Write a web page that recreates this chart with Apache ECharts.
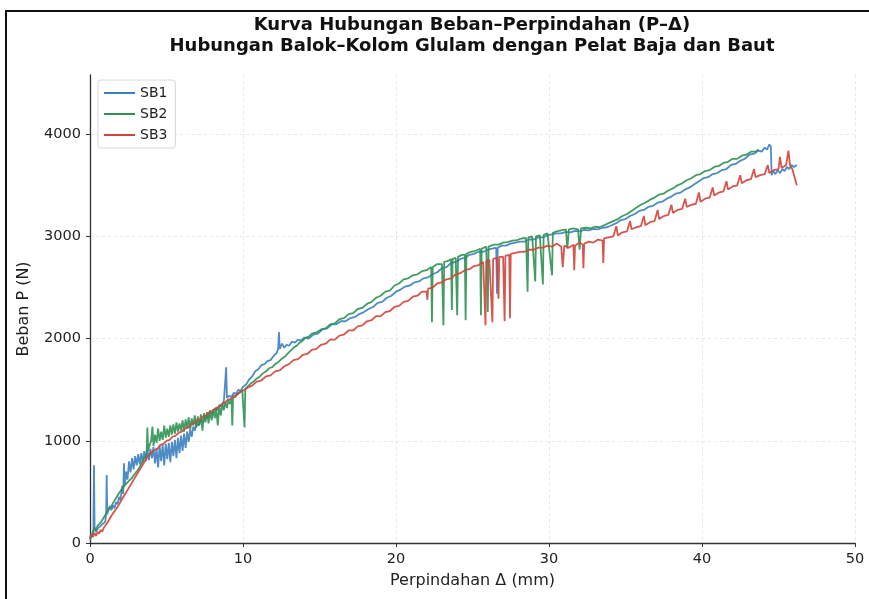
<!DOCTYPE html>
<html>
<head>
<meta charset="utf-8">
<script src="https://cdn.jsdelivr.net/npm/echarts@6/dist/echarts.min.js"></script>
<style>
html,body{margin:0;padding:0;background:#fff;}
#chart{width:869px;height:599px;}
</style>
</head>
<body>
<div id="chart"></div>
<script>
const titleLines = ['Kurva Hubungan Beban–Perpindahan (P–Δ)', 'Hubungan Balok–Kolom Glulam dengan Pelat Baja dan Baut'];
const seriesNames = ['SB1', 'SB2', 'SB3'];
const xTicks = [0, 10, 20, 30, 40, 50];
const yTicks = [0, 1000, 2000, 3000, 4000];

const sb1 = [
[0,40],[0.08,90],[0.15,60],[0.22,130],[0.26,760],[0.3,150],[0.38,110],[0.5,140],[0.62,125],[0.75,175],[0.88,160],[1.0,210],[1.06,300],[1.09,665],[1.13,280],[1.2,330],[1.3,360],[1.4,320],[1.5,370],[1.6,340],[1.7,400],[1.8,380],[1.9,450],[2.0,420],[2.1,560],[2.17,480],[2.22,780],[2.27,560],[2.35,700],[2.45,620],[2.55,800],[2.65,690],[2.75,830],[2.85,720],[2.95,850],[3.05,760],[3.15,870],[3.25,770],[3.35,880],[3.45,790],[3.55,900],[3.65,800],[3.75,910],[3.85,810],[3.95,920],[4.05,830],[4.15,940],[4.25,780],[4.35,930],[4.45,740],[4.55,950],[4.65,800],[4.75,960],[4.85,760],[4.95,970],[5.05,820],[5.15,980],[5.25,790],[5.35,990],[5.45,850],[5.55,1010],[5.65,830],[5.75,1030],[5.85,880],[5.95,1050],[6.05,900],[6.15,1070],[6.25,930],[6.35,1090],[6.45,990],[6.55,1110],[6.65,1040],[6.75,1140],[6.85,1100],[6.95,1170],[7.1,1150],[7.25,1200],[7.4,1190],[7.55,1240],[7.7,1230],[7.85,1280],[8.0,1270],[8.15,1310],[8.3,1300],[8.45,1350],[8.6,1340],[8.75,1390],[8.85,1400],[8.9,1720],[8.95,1420],[9.1,1440],[9.25,1430],[9.4,1470],[9.55,1460],[9.7,1500],[9.85,1490],[10.0,1530],[10.2,1550],[10.4,1600],[10.6,1630],[10.8,1680],[11.0,1700],[11.2,1740],[11.4,1750],[11.6,1780],[11.8,1790],[12.0,1830],[12.2,1860],[12.3,1900],[12.35,2065],[12.4,1900],[12.55,1950],[12.7,1910],[12.85,1940],[13.0,1930],[13.2,1970],[13.4,1960],[13.6,1990],[13.8,1980],[14.0,2010],[14.3,2000],[14.6,2040],[14.9,2050],[15.2,2090],[15.5,2100],[15.8,2140],[16.1,2140],[16.4,2170],[16.7,2170],[17.0,2200],[17.3,2210],[17.6,2240],[17.9,2260],[18.2,2290],[18.5,2310],[18.8,2350],[19.1,2360],[19.4,2400],[19.7,2420],[20.0,2460],[20.3,2480],[20.6,2510],[20.9,2520],[21.2,2550],[21.5,2560],[21.8,2590],[22.1,2600],[22.4,2630],[22.7,2650],[23.0,2690],[23.3,2700],[23.6,2740],[23.9,2750],[24.2,2780],[24.5,2790],[24.8,2820],[25.1,2830],[25.4,2850],[25.7,2850],[26.0,2870],[26.3,2880],[26.55,2890],[26.6,2440],[26.65,2890],[26.9,2910],[27.2,2910],[27.5,2930],[27.8,2940],[28.1,2950],[28.4,2950],[28.7,2970],[29.0,2970],[29.3,2990],[29.6,2990],[29.9,3010],[30.2,3020],[30.5,3030],[30.8,3030],[31.1,3045],[31.4,3040],[31.7,3055],[32.0,3050],[32.3,3065],[32.6,3060],[32.9,3075],[33.2,3070],[33.5,3085],[33.8,3090],[34.1,3110],[34.4,3130],[34.7,3160],[35.0,3170],[35.3,3200],[35.6,3220],[35.9,3250],[36.2,3260],[36.5,3290],[36.8,3300],[37.1,3330],[37.4,3340],[37.7,3370],[38.0,3390],[38.3,3420],[38.6,3430],[38.9,3460],[39.2,3480],[39.5,3510],[39.8,3540],[40.1,3570],[40.4,3580],[40.7,3610],[41.0,3620],[41.3,3650],[41.6,3660],[41.9,3700],[42.2,3710],[42.5,3740],[42.8,3760],[43.1,3800],[43.4,3810],[43.7,3840],[43.9,3830],[44.1,3870],[44.25,3850],[44.4,3900],[44.5,3880],[44.55,3600],[44.65,3640],[44.8,3610],[44.95,3650],[45.1,3620],[45.25,3660],[45.4,3640],[45.55,3680],[45.7,3660],[45.85,3700],[46.0,3680],[46.2,3700]
];

const sb2 = [
[0,30],[0.1,70],[0.2,60],[0.3,150],[0.4,130],[0.5,170],[0.6,160],[0.7,200],[0.8,210],[0.9,250],[1.0,260],[1.1,300],[1.2,310],[1.3,340],[1.4,350],[1.5,390],[1.6,400],[1.7,440],[1.8,450],[1.9,490],[2.0,500],[2.1,530],[2.2,540],[2.3,570],[2.4,575],[2.5,600],[2.6,605],[2.7,630],[2.8,640],[2.9,670],[3.0,680],[3.1,710],[3.2,730],[3.3,760],[3.4,790],[3.5,820],[3.6,850],[3.7,880],[3.75,1130],[3.8,900],[3.9,960],[4.0,1000],[4.08,1140],[4.15,950],[4.25,1060],[4.35,980],[4.45,1120],[4.55,1000],[4.65,1090],[4.75,1010],[4.85,1150],[4.95,1030],[5.05,1120],[5.15,1040],[5.25,1150],[5.35,1060],[5.45,1160],[5.55,1070],[5.65,1180],[5.75,1090],[5.85,1170],[5.95,1100],[6.05,1200],[6.15,1090],[6.25,1210],[6.35,1120],[6.45,1230],[6.55,1110],[6.65,1220],[6.75,1150],[6.85,1250],[6.95,1130],[7.05,1240],[7.15,1150],[7.25,1260],[7.35,1100],[7.45,1270],[7.55,1180],[7.65,1280],[7.75,1170],[7.85,1300],[7.95,1200],[8.05,1310],[8.15,1220],[8.25,1320],[8.35,1150],[8.45,1340],[8.55,1250],[8.65,1360],[8.75,1300],[8.85,1380],[8.95,1320],[9.05,1400],[9.15,1360],[9.25,1410],[9.3,1150],[9.35,1420],[9.5,1430],[9.65,1460],[9.8,1470],[9.95,1500],[10.05,1500],[10.1,1130],[10.15,1510],[10.3,1530],[10.5,1560],[10.7,1580],[10.9,1610],[11.1,1630],[11.3,1660],[11.5,1680],[11.7,1710],[11.9,1720],[12.1,1750],[12.3,1770],[12.5,1800],[12.7,1820],[12.9,1850],[13.1,1880],[13.3,1910],[13.5,1930],[13.7,1960],[13.9,1980],[14.1,2010],[14.3,2020],[14.5,2050],[14.8,2060],[15.1,2090],[15.4,2100],[15.7,2140],[16.0,2150],[16.3,2190],[16.6,2200],[16.9,2240],[17.2,2250],[17.5,2290],[17.8,2300],[18.1,2340],[18.4,2360],[18.7,2400],[19.0,2420],[19.3,2460],[19.6,2470],[19.9,2520],[20.2,2540],[20.5,2580],[20.8,2590],[21.1,2620],[21.4,2630],[21.7,2660],[22.0,2670],[22.3,2700],[22.35,2160],[22.4,2700],[22.7,2730],[23.0,2730],[23.1,2130],[23.15,2750],[23.4,2760],[23.6,2780],[23.65,2280],[23.7,2780],[23.9,2790],[24.0,2230],[24.05,2800],[24.3,2820],[24.5,2820],[24.55,2180],[24.6,2830],[24.9,2850],[25.2,2860],[25.5,2880],[25.55,2230],[25.6,2880],[25.9,2900],[26.0,2260],[26.05,2900],[26.4,2920],[26.7,2920],[27.0,2940],[27.3,2945],[27.6,2960],[27.9,2965],[28.2,2980],[28.5,2985],[28.6,2460],[28.65,2990],[28.9,3000],[29.1,2560],[29.15,3000],[29.4,3010],[29.6,2530],[29.65,3015],[29.9,3030],[30.2,2620],[30.25,3035],[30.5,3050],[30.8,3060],[31.1,3070],[31.2,2880],[31.3,3070],[31.6,3080],[31.9,3070],[32.0,2870],[32.1,3080],[32.4,3085],[32.7,3080],[33.0,3095],[33.3,3090],[33.6,3110],[33.9,3130],[34.2,3150],[34.5,3170],[34.8,3200],[35.1,3220],[35.4,3250],[35.7,3280],[36.0,3310],[36.3,3330],[36.6,3360],[36.9,3380],[37.2,3410],[37.5,3420],[37.8,3450],[38.1,3470],[38.4,3500],[38.7,3520],[39.0,3550],[39.3,3570],[39.6,3600],[39.9,3610],[40.2,3640],[40.5,3650],[40.8,3680],[41.1,3690],[41.4,3720],[41.7,3730],[42.0,3760],[42.3,3760],[42.6,3790],[42.9,3800],[43.2,3830],[43.5,3830],[43.7,3850]
];

const sb3 = [
[0,50],[0.1,80],[0.2,60],[0.3,100],[0.4,70],[0.5,110],[0.6,90],[0.7,130],[0.8,110],[0.9,150],[1.0,140],[1.1,190],[1.2,190],[1.3,240],[1.4,240],[1.5,290],[1.6,290],[1.7,330],[1.8,340],[1.9,380],[2.0,390],[2.1,430],[2.2,440],[2.3,480],[2.4,490],[2.5,530],[2.6,540],[2.7,580],[2.8,590],[2.9,630],[3.0,640],[3.1,680],[3.2,690],[3.3,730],[3.4,740],[3.5,780],[3.6,790],[3.7,830],[3.8,830],[3.9,870],[4.0,870],[4.2,910],[4.4,920],[4.6,960],[4.8,970],[5.0,1000],[5.2,1010],[5.4,1040],[5.6,1050],[5.8,1080],[6.0,1090],[6.2,1120],[6.4,1130],[6.6,1160],[6.8,1170],[7.0,1200],[7.2,1210],[7.4,1240],[7.6,1250],[7.8,1280],[8.0,1290],[8.2,1320],[8.4,1330],[8.6,1360],[8.8,1370],[9.0,1400],[9.2,1410],[9.4,1440],[9.6,1450],[9.8,1480],[10.0,1490],[10.3,1520],[10.6,1540],[10.9,1580],[11.2,1590],[11.5,1630],[11.8,1640],[12.1,1680],[12.4,1690],[12.7,1730],[13.0,1750],[13.3,1790],[13.6,1800],[13.9,1840],[14.2,1850],[14.5,1890],[14.8,1900],[15.1,1940],[15.4,1950],[15.7,1990],[16.0,1990],[16.3,2030],[16.6,2040],[16.9,2080],[17.2,2080],[17.5,2120],[17.8,2130],[18.1,2170],[18.4,2180],[18.7,2220],[19.0,2220],[19.3,2260],[19.6,2270],[19.9,2310],[20.2,2320],[20.5,2360],[20.8,2370],[21.1,2410],[21.4,2420],[21.7,2460],[22.0,2460],[22.05,2380],[22.1,2490],[22.4,2500],[22.7,2540],[23.0,2550],[23.3,2580],[23.6,2590],[23.9,2630],[24.2,2640],[24.5,2670],[24.8,2680],[25.1,2710],[25.4,2720],[25.7,2750],[25.85,2130],[25.9,2760],[26.1,2770],[26.3,2160],[26.35,2780],[26.6,2790],[26.7,2390],[26.75,2800],[27.0,2800],[27.1,2170],[27.15,2810],[27.4,2820],[27.45,2200],[27.5,2830],[27.8,2840],[28.1,2850],[28.4,2850],[28.7,2870],[29.0,2870],[29.3,2890],[29.6,2890],[29.9,2910],[30.2,2900],[30.5,2930],[30.8,2900],[30.9,2700],[31.0,2910],[31.3,2890],[31.6,2920],[31.65,2670],[31.7,2910],[32.0,2940],[32.2,2920],[32.25,2690],[32.3,2930],[32.6,2950],[32.9,2940],[33.2,2970],[33.5,2960],[33.55,2740],[33.6,2980],[33.9,2990],[34.2,3000],[34.4,3100],[34.5,3010],[34.8,3040],[35.1,3050],[35.3,3150],[35.4,3070],[35.7,3090],[36.0,3100],[36.2,3200],[36.3,3110],[36.6,3140],[36.9,3150],[37.1,3260],[37.2,3170],[37.5,3200],[37.8,3210],[38.0,3310],[38.1,3230],[38.4,3260],[38.7,3270],[38.9,3370],[39.0,3290],[39.3,3310],[39.6,3320],[39.8,3430],[39.9,3340],[40.2,3370],[40.5,3380],[40.7,3480],[40.8,3400],[41.1,3430],[41.4,3440],[41.6,3540],[41.7,3460],[42.0,3490],[42.3,3500],[42.5,3600],[42.6,3520],[42.9,3550],[43.2,3560],[43.4,3660],[43.5,3580],[43.8,3600],[44.1,3610],[44.3,3700],[44.4,3620],[44.7,3650],[45.0,3660],[45.1,3780],[45.2,3670],[45.5,3700],[45.65,3840],[45.75,3700],[45.9,3660],[46.05,3580],[46.2,3500]
];

const colors = ['#3a80bf', '#2e9152', '#d2443a'];
const seriesData = [sb1, sb2, sb3];

const chart = echarts.init(document.getElementById('chart'), null, {renderer: 'canvas'});
const font = 'DejaVu Sans';
chart.setOption({
  animation: false,
  backgroundColor: '#fff',
  title: {
    text: titleLines.join('\n'),
    left: 472,
    top: 15,
    padding: 0,
    textAlign: 'center',
    textStyle: {fontFamily: font, fontWeight: 'bold', fontSize: 18, lineHeight: 21, color: '#111'}
  },
  legend: {
    orient: 'vertical',
    left: 98,
    top: 80,
    data: seriesNames,
    icon: 'rect',
    itemWidth: 31,
    itemHeight: 2,
    itemGap: 7,
    padding: [6, 8, 6, 6],
    borderColor: '#d8d8d8',
    borderWidth: 1,
    borderRadius: 3,
    backgroundColor: 'rgba(255,255,255,0.85)',
    textStyle: {fontFamily: font, fontSize: 14, color: '#222'}
  },
  grid: {left: 90, right: 14, top: 75, bottom: 56, containLabel: false},
  xAxis: {
    type: 'value', min: 0, max: 50, interval: 10,
    name: 'Perpindahan Δ (mm)', nameLocation: 'middle', nameGap: 30,
    nameTextStyle: {fontFamily: font, fontSize: 16, color: '#222'},
    axisLine: {show: true, lineStyle: {color: '#333', width: 1.3}},
    axisTick: {show: true, length: 4, lineStyle: {color: '#333'}},
    axisLabel: {fontFamily: font, fontSize: 14.5, color: '#222', margin: 9, formatter: v => String(v)},
    splitLine: {show: true, lineStyle: {type: [3, 3], color: '#e2e2e2', width: 0.8}}
  },
  yAxis: {
    type: 'value', min: 0, max: 4580, interval: 1000,
    name: 'Beban P (N)', nameLocation: 'middle', nameGap: 58,
    nameTextStyle: {fontFamily: font, fontSize: 16, color: '#222'},
    axisLine: {show: true, lineStyle: {color: '#333', width: 1.3}},
    axisTick: {show: true, length: 4, lineStyle: {color: '#333'}, customValues: yTicks},
    axisLabel: {fontFamily: font, fontSize: 14.5, color: '#222', margin: 9, customValues: yTicks, formatter: v => String(v)},
    splitLine: {show: true, lineStyle: {type: [3, 3], color: '#e2e2e2', width: 0.8}}
  },
  series: seriesNames.map((n, i) => ({
    name: n,
    type: 'line',
    data: seriesData[i],
    showSymbol: false,
    symbol: 'none',
    lineStyle: {color: colors[i], width: 1.8, opacity: 0.9},
    itemStyle: {color: colors[i]},
    z: 2 + i
  })),
  graphic: [
    {type: 'line', shape: {x1: 6, y1: 11, x2: 6, y2: 599}, style: {stroke: '#111', lineWidth: 2}},
    {type: 'line', shape: {x1: 5, y1: 11, x2: 869, y2: 11}, style: {stroke: '#111', lineWidth: 2}}
  ]
});
</script>
</body>
</html>
